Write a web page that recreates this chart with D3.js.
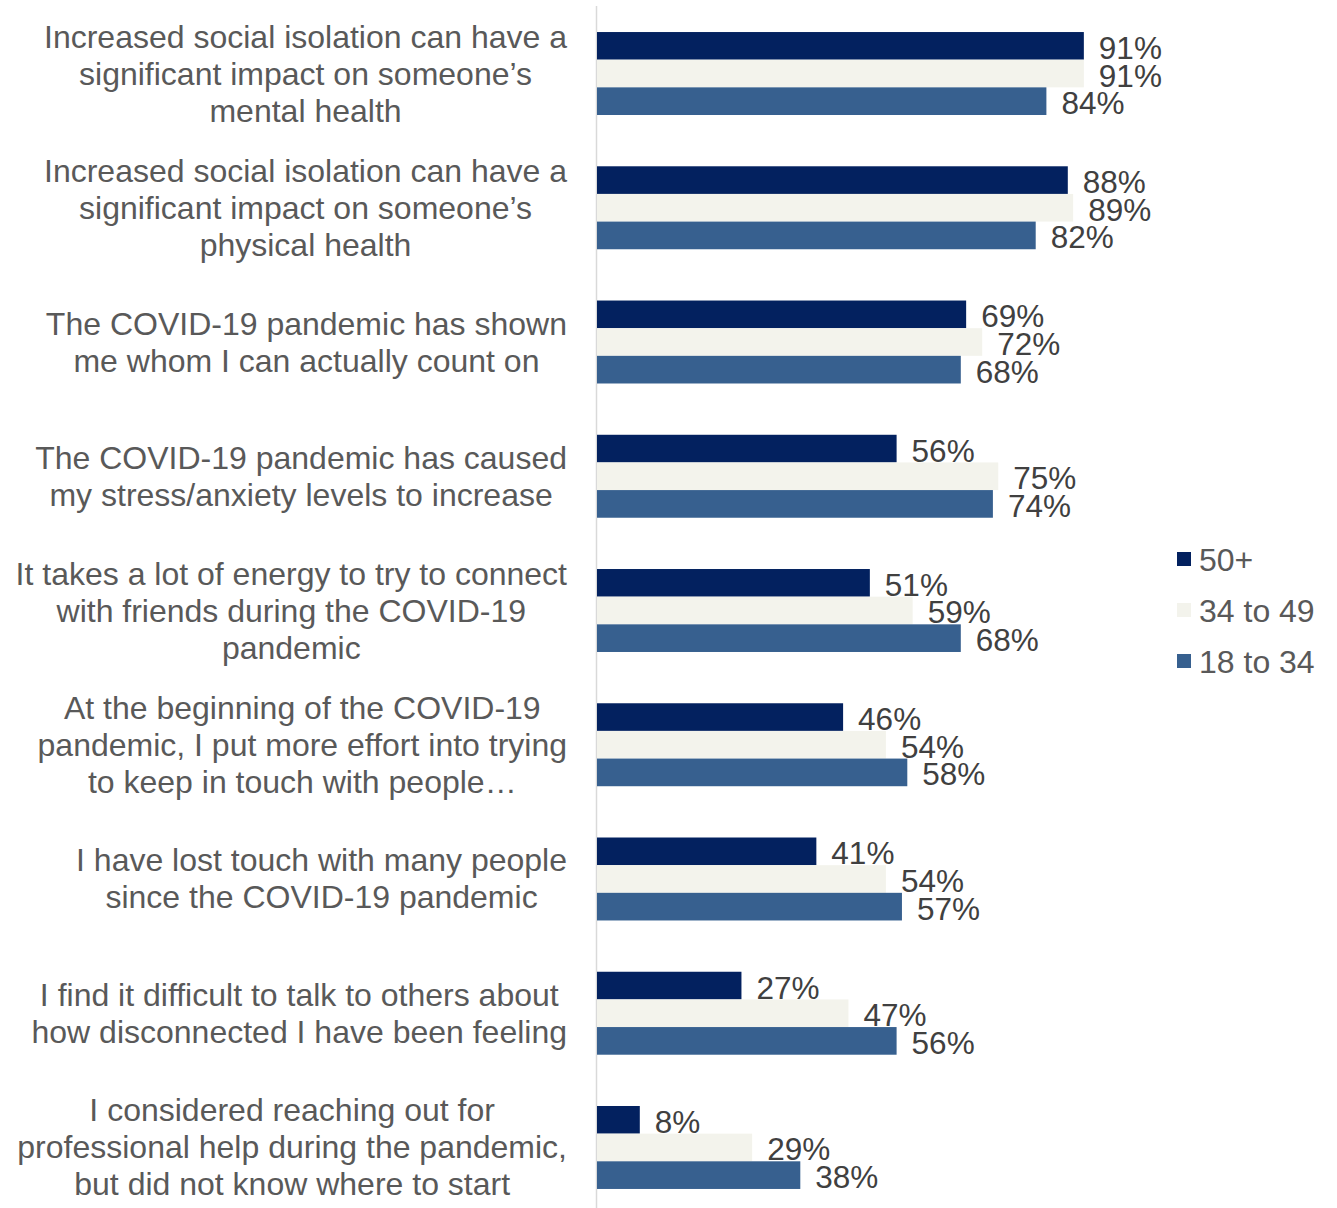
<!DOCTYPE html>
<html>
<head>
<meta charset="utf-8">
<script src="https://cdn.jsdelivr.net/npm/d3@7/dist/d3.min.js"></script>
<style>
  html, body { margin: 0; padding: 0; background: #ffffff; }
  svg { display: block; font-family: "Liberation Sans", Arial, sans-serif; }
</style>
</head>
<body>
<svg id="chart" width="1337" height="1208"></svg>
<script>
// Survey statements (each entry is a list of wrapped lines)
const categories = [
  ["Increased social isolation can have a", "significant impact on someone\u2019s", "mental health"],
  ["Increased social isolation can have a", "significant impact on someone\u2019s", "physical health"],
  ["The COVID-19 pandemic has shown", "me whom I can actually count on"],
  ["The COVID-19 pandemic has caused", "my stress/anxiety levels to increase"],
  ["It takes a lot of energy to try to connect", "with friends during the COVID-19", "pandemic"],
  ["At the beginning of the COVID-19", "pandemic, I put more effort into trying", "to keep in touch with people\u2026"],
  ["I have lost touch with many people", "since the COVID-19 pandemic"],
  ["I find it difficult to talk to others about", "how disconnected I have been feeling"],
  ["I considered reaching out for", "professional help during the pandemic,", "but did not know where to start"]
];

const seriesNames = ["50+", "34 to 49", "18 to 34"];
const age50plus  = [91, 88, 69, 56, 51, 46, 41, 27, 8];
const age34to49  = [91, 89, 72, 75, 59, 54, 54, 47, 29];
const age18to34  = [84, 82, 68, 74, 68, 58, 57, 56, 38];
const seriesValues = [age50plus, age34to49, age18to34];
const seriesColors = ["#03215f", "#f3f3ec", "#37608f"];

const svg = d3.select("#chart");
const keys = categories.map((c, i) => i);

const x = d3.scaleLinear().domain([0, 100]).range([597, 1132]);
const y = d3.scaleBand().domain(keys).range([6.4, 1214.6])
  .paddingInner(0.382).paddingOuter(0.191);
const ySub = d3.scaleBand().domain(d3.range(seriesNames.length)).range([0, y.bandwidth()]);

// vertical category axis line
svg.append("line")
  .attr("x1", 596.5).attr("x2", 596.5)
  .attr("y1", 6).attr("y2", 1208)
  .attr("stroke", "#d9d9d9").attr("stroke-width", 1.5);

// bars and value labels
const groups = svg.selectAll("g.group").data(keys).join("g")
  .attr("class", "group")
  .attr("transform", d => `translate(0,${y(d)})`);

seriesNames.forEach((name, s) => {
  groups.append("rect")
    .attr("x", x(0))
    .attr("y", ySub(s))
    .attr("width", d => x(seriesValues[s][d]) - x(0))
    .attr("height", ySub.bandwidth())
    .attr("fill", seriesColors[s]);
  groups.append("text")
    .attr("x", d => x(seriesValues[s][d]) + 15)
    .attr("y", ySub(s) + ySub.bandwidth() / 2 + 2)
    .attr("dominant-baseline", "central")
    .attr("font-size", 31.5)
    .attr("fill", "#404040")
    .text(d => seriesValues[s][d] + "%");
});

// category labels: block right-aligned to the axis, lines centred within the block
const labelRight = 567;
const lineH = 37;
const fontSize = 32;
keys.forEach(i => {
  const lines = categories[i];
  const g = svg.append("g");
  const texts = lines.map(l => g.append("text")
    .attr("font-size", fontSize).attr("fill", "#595959").text(l));
  const maxW = d3.max(texts, t => t.node().getComputedTextLength());
  const cx = labelRight - maxW / 2;
  const cy = y(i) + y.bandwidth() / 2;
  texts.forEach((t, k) => {
    t.attr("x", cx).attr("text-anchor", "middle")
     .attr("y", cy + (k - (lines.length - 1) / 2) * lineH)
     .attr("dominant-baseline", "central");
  });
});

// legend
const legend = svg.append("g").attr("transform", "translate(1177,559)");
seriesNames.forEach((name, s) => {
  const row = legend.append("g").attr("transform", `translate(0,${s * 51})`);
  row.append("rect").attr("x", 0).attr("y", -7).attr("width", 14).attr("height", 14)
    .attr("fill", seriesColors[s]);
  row.append("text").attr("x", 22).attr("y", 1)
    .attr("dominant-baseline", "central")
    .attr("font-size", 32).attr("fill", "#595959").text(name);
});
</script>
</body>
</html>
